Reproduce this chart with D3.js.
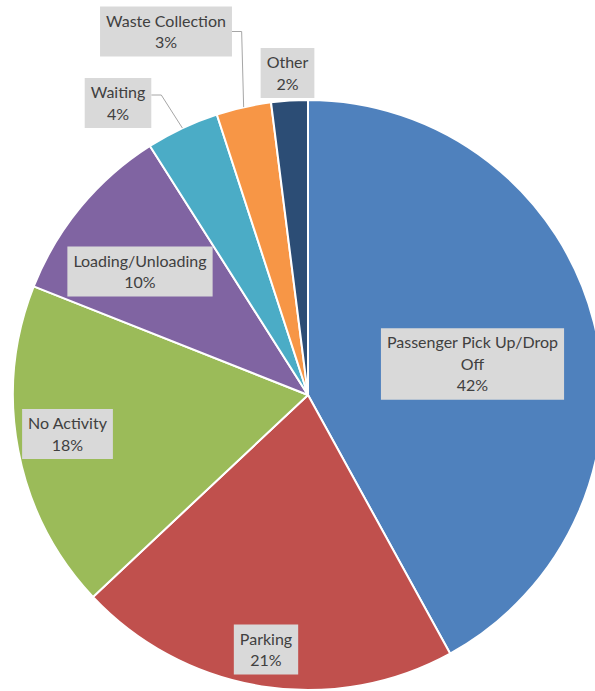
<!DOCTYPE html>
<html>
<head>
<meta charset="utf-8">
<script src="https://cdn.jsdelivr.net/npm/d3@7"></script>
<style>
  html, body { margin: 0; padding: 0; background: #ffffff; }
  svg { display: block; }
  text { font-family: Lato, "Open Sans", sans-serif; }
</style>
</head>
<body>
<svg id="chart" width="595" height="691"></svg>
<script>
// Share of kerbside activity, in percent, clockwise from 12 o'clock
const categories = [
  "Passenger Pick Up/Drop Off",
  "Parking",
  "No Activity",
  "Loading/Unloading",
  "Waiting",
  "Waste Collection",
  "Other"
];
const shares = [42, 21, 18, 10, 4, 3, 2];
const colors = ["#4f81bd", "#c0504d", "#9bbb59", "#8064a2", "#4bacc6", "#f79646", "#2c4d75"];

// Label box placement relative to the pie centre, and which labels use a leader line
const labelOffsets = [
  [164.5, -31], [-42, 254.5], [-240.5, 39], [-168, -123.5],
  [-190, -292], [-142, -363.5], [-20.5, -322]
];
const leaderAttach = [null, null, null, null, -8, 0, null];

const width = 595, height = 691;
const cx = 308, cy = 395, radius = 295;
const fontSize = 16, lineH = 21.5, padX = 6, padY = 3.5, wrapWidth = 185;

const svg = d3.select("#chart");
const g = svg.append("g").attr("transform", `translate(${cx},${cy})`);

const data = categories.map((c, i) => ({ name: c, value: shares[i], color: colors[i], i }));

const pie = d3.pie().value(d => d.value).sort(null);
const arcs = pie(data);
const arc = d3.arc().innerRadius(0).outerRadius(radius);

g.selectAll("path.slice")
  .data(arcs)
  .join("path")
  .attr("class", "slice")
  .attr("d", arc)
  .attr("fill", d => d.data.color)
  .attr("stroke", "#ffffff")
  .attr("stroke-width", 2)
  .attr("stroke-linejoin", "round");

// Split a label into lines no wider than wrapWidth
const measurer = svg.append("text").attr("font-size", fontSize).attr("visibility", "hidden");
function measure(s) { measurer.text(s); return measurer.node().getComputedTextLength(); }
function wrap(s) {
  const words = s.split(" ");
  const lines = [];
  let cur = "";
  words.forEach(w => {
    const test = cur ? cur + " " + w : w;
    if (cur && measure(test) > wrapWidth) { lines.push(cur); cur = w; }
    else cur = test;
  });
  if (cur) lines.push(cur);
  return lines;
}

const labels = g.append("g").attr("class", "labels");

arcs.forEach((a, i) => {
  const lines = wrap(a.data.name).concat([a.data.value + "%"]);
  const w = d3.max(lines, measure) + padX * 2;
  const h = lines.length * lineH + padY * 2;
  const [lx, ly] = labelOffsets[i];
  const x0 = lx - w / 2, y0 = ly - h / 2;

  if (leaderAttach[i] !== null) {
    const mid = (a.startAngle + a.endAngle) / 2;
    const ex = radius * Math.sin(mid), ey = -radius * Math.cos(mid);
    const ay = ly + leaderAttach[i];
    const bx = x0 + w;
    const elbowX = Math.min(bx + 10, ex - 2);
    labels.append("polyline")
      .attr("points", [[bx, ay], [elbowX, ay], [ex, ey]].map(p => p.join(",")).join(" "))
      .attr("fill", "none")
      .attr("stroke", "#a6a6a6")
      .attr("stroke-width", 1);
  }

  labels.append("rect")
    .attr("x", x0).attr("y", y0)
    .attr("width", w).attr("height", h)
    .attr("fill", "#d9d9d9");

  const t = labels.append("text")
    .attr("text-anchor", "middle")
    .attr("font-size", fontSize)
    .attr("fill", "#404040");
  lines.forEach((s, k) => {
    t.append("tspan")
      .attr("x", lx)
      .attr("y", y0 + padY + lineH * k + lineH / 2)
      .attr("dy", "0.36em")
      .text(s);
  });
});

measurer.remove();
</script>
</body>
</html>
